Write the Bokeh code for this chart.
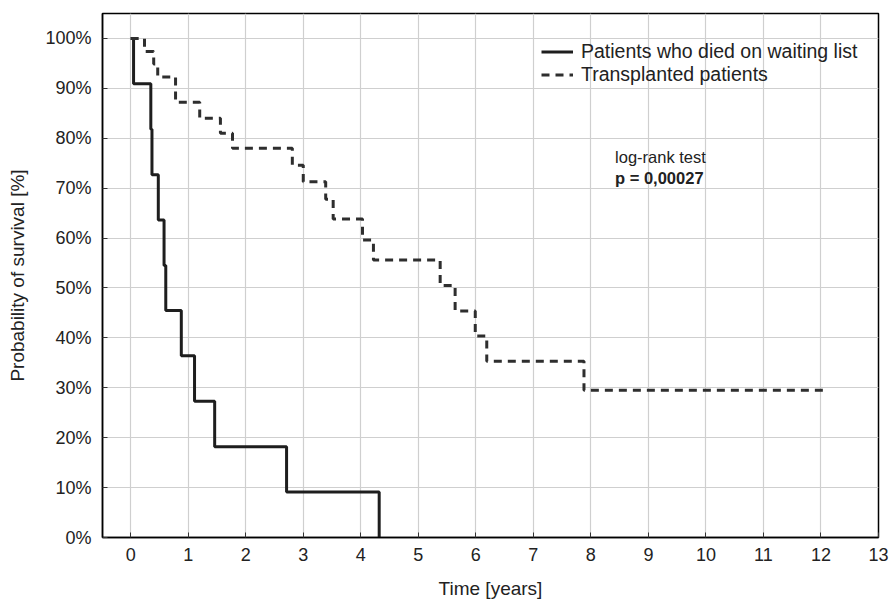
from bokeh.plotting import figure
from bokeh.models import FixedTicker, PrintfTickFormatter, Range1d, Label
from bokeh.embed import file_html
from bokeh.resources import INLINE

# ---- data ----
died_times = [0, 0.05, 0.35, 0.37, 0.48, 0.58, 0.61, 0.88, 1.11, 1.46, 2.71, 4.32]
died_surv = [100, 90.9, 81.8, 72.7, 63.6, 54.5, 45.5, 36.4, 27.3, 18.2, 9.1, 0]

tx_times = [0, 0.24, 0.40, 0.47, 0.78, 1.20, 1.56, 1.77, 2.81, 3.00, 3.39, 3.52,
            4.03, 4.22, 5.38, 5.64, 5.99, 6.19, 7.88, 12.12]
tx_surv = [100, 97.4, 94.9, 92.3, 87.2, 84.0, 81.0, 78.0, 74.6, 71.3, 67.8, 63.8,
           59.6, 55.6, 50.5, 45.4, 40.4, 35.3, 29.5, 29.5]

x_ticks = list(range(0, 14))
y_ticks = list(range(0, 101, 10))

series_labels = ["Patients who died on waiting list", "Transplanted patients"]
test_name = "log-rank test"
p_value_text = "p = 0,00027"
x_title = "Time [years]"
y_title = "Probability of survival [%]"

FONT = "Liberation Sans"
TXT = "#222222"

p = figure(width=890, height=601, output_backend="svg", toolbar_location=None,
           x_range=Range1d(-0.49, 13), y_range=Range1d(0, 105),
           min_border_left=102, min_border_right=12, min_border_top=13,
           min_border_bottom=63, background_fill_color="white",
           border_fill_color="white")

p.step(died_times, died_surv, mode="after", line_color="#1e1e1e", line_width=3,
       legend_label=series_labels[0])
p.step(tx_times, tx_surv, mode="after", line_color="#2e2e2e", line_width=3,
       line_dash="8 6", legend_label=series_labels[1])

# grid
p.xgrid.ticker = FixedTicker(ticks=x_ticks)
p.ygrid.ticker = FixedTicker(ticks=y_ticks)
p.grid.grid_line_color = "#cfcfcf"
p.grid.grid_line_width = 1.2

# axes
p.xaxis.ticker = FixedTicker(ticks=x_ticks)
p.yaxis.ticker = FixedTicker(ticks=y_ticks)
p.yaxis.formatter = PrintfTickFormatter(format="%d%%")
for ax in (p.xaxis, p.yaxis):
    ax.axis_line_color = "black"
    ax.axis_line_width = 1.5
    ax.major_tick_in = 5
    ax.major_tick_out = 0
    ax.major_tick_line_color = "#333333"
    ax.minor_tick_line_color = None
    ax.major_label_text_font = FONT
    ax.major_label_text_font_size = "18px"
    ax.major_label_text_color = TXT
    ax.axis_label_text_font = FONT
    ax.axis_label_text_font_size = "19px"
    ax.axis_label_text_font_style = "normal"
    ax.axis_label_text_color = TXT
p.xaxis.axis_label = x_title
p.yaxis.axis_label = y_title
p.xaxis.major_label_standoff = 10
p.xaxis.axis_label_standoff = 14
p.yaxis.major_label_standoff = 11
p.yaxis.axis_label_standoff = 14

p.outline_line_color = "black"
p.outline_line_width = 1.5
p.outline_line_alpha = 1

# legend
lg = p.legend[0]
lg.location = (439, 451)
lg.background_fill_alpha = 0
lg.border_line_alpha = 0
lg.padding = 0
lg.margin = 0
lg.spacing = 0
lg.glyph_width = 32
lg.glyph_height = 21
lg.label_height = 21
lg.label_standoff = 8
lg.label_text_font = FONT
lg.label_text_font_size = "19.5px"
lg.label_text_color = TXT

# annotation
p.add_layout(Label(x=8.42, y=76.2, text=test_name, text_font=FONT,
                   text_font_size="16.5px", text_color=TXT, text_baseline="middle"))
p.add_layout(Label(x=8.42, y=72.0, text=p_value_text, text_font=FONT,
                   text_font_size="16.5px", text_font_style="bold", text_color=TXT,
                   text_baseline="middle"))

open("out.html", "w").write(file_html(p, INLINE))
